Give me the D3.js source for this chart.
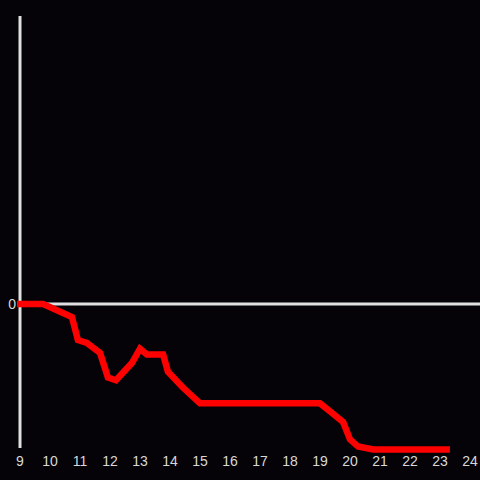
<!DOCTYPE html>
<html>
<head>
<meta charset="utf-8">
<script src="https://cdn.jsdelivr.net/npm/d3@7"></script>
<style>
  html, body { margin: 0; padding: 0; background: #050307; }
  svg { display: block; }
</style>
</head>
<body>
<div id="chart"></div>
<script>
// hours on the x axis
const hours = [8.9, 9.77, 10.73, 10.93, 11.23, 11.67, 11.93, 12.2, 12.73, 13.0, 13.23, 13.77, 13.93, 14.43, 15.0, 19.0, 19.3, 19.77, 20.0, 20.27, 20.77, 23.33];
const values = [0, 0, -0.09, -0.25, -0.27, -0.34, -0.51, -0.53, -0.41, -0.31, -0.35, -0.35, -0.47, -0.58, -0.69, -0.69, -0.74, -0.82, -0.94, -0.99, -1.01, -1.01];
const xTicks = [9, 10, 11, 12, 13, 14, 15, 16, 17, 18, 19, 20, 21, 22, 23, 24];
const yTicks = [0];

const width = 480, height = 480;

const svg = d3.select('#chart').append('svg')
  .attr('width', width)
  .attr('height', height)
  .style('background', '#050307');

const x = d3.scaleLinear().domain([9, 24]).range([20, 470]);
const y = d3.scaleLinear().domain([-1, 2]).range([448, 16]);

// y axis line
svg.append('line')
  .attr('x1', x(9)).attr('x2', x(9))
  .attr('y1', y(2)).attr('y2', y(-1))
  .attr('stroke', '#e0e0e0')
  .attr('stroke-width', 3);

// zero line
svg.append('line')
  .attr('x1', x(9)).attr('x2', width)
  .attr('y1', y(0)).attr('y2', y(0))
  .attr('stroke', '#e0e0e0')
  .attr('stroke-width', 3);

// x tick labels
svg.selectAll('.xt').data(xTicks).enter().append('text')
  .attr('class', 'xt')
  .attr('x', d => x(d))
  .attr('y', 466)
  .attr('text-anchor', 'middle')
  .attr('fill', '#d8d8d8')
  .style('font-family', 'Liberation Sans, Arial, sans-serif')
  .style('font-size', '14px')
  .text(d => d);

// y tick labels
svg.selectAll('.yt').data(yTicks).enter().append('text')
  .attr('class', 'yt')
  .attr('x', 16)
  .attr('y', d => y(d) + 5)
  .attr('text-anchor', 'end')
  .attr('fill', '#d8d8d8')
  .style('font-family', 'Liberation Sans, Arial, sans-serif')
  .style('font-size', '14px')
  .text(d => d);

const line = d3.line()
  .x((d, i) => x(hours[i]))
  .y(d => y(d));

svg.append('path')
  .datum(values)
  .attr('fill', 'none')
  .attr('stroke', '#ff0000')
  .attr('stroke-width', 6.5)
  .attr('stroke-linejoin', 'miter')
  .attr('d', line);
</script>
</body>
</html>
